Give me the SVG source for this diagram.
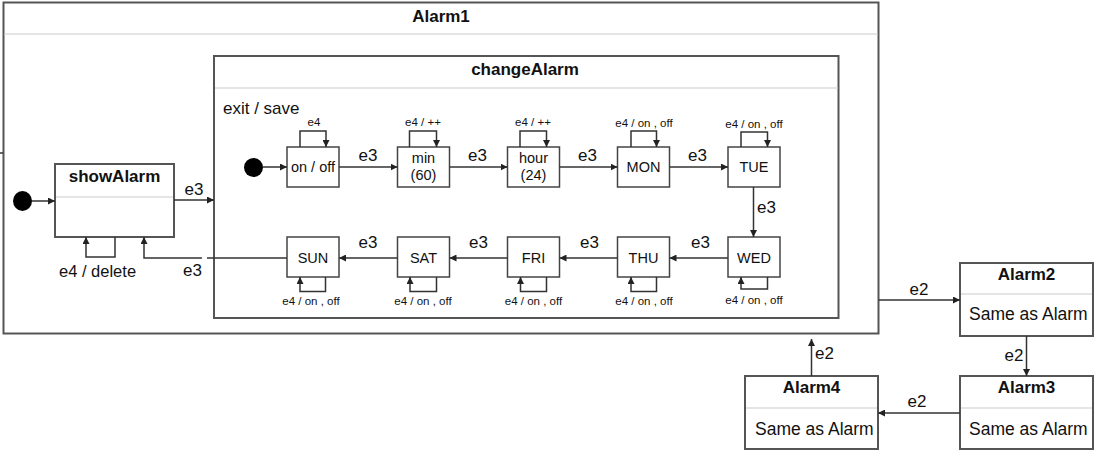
<svg xmlns="http://www.w3.org/2000/svg" width="1094" height="450" viewBox="0 0 1094 450">
<defs>
<marker id="ah" viewBox="0 0 10 10" refX="10" refY="5" markerWidth="7" markerHeight="7" markerUnits="userSpaceOnUse" orient="auto"><path d="M0,0 L10,5 L0,10 z" fill="#222"/></marker>
<style>
.box{fill:#fff;stroke:#555;stroke-width:2}
.div{stroke:#ddd;stroke-width:1.5}
.st{fill:#fff;stroke:#444;stroke-width:1.5}
.c{fill:none;stroke:#333;stroke-width:1.5;marker-end:url(#ah)}
.cn{fill:none;stroke:#333;stroke-width:1.5}
text{font-family:"Liberation Sans",Arial,sans-serif;fill:#111}
.t{font-size:17px;font-weight:bold;text-anchor:middle}
.n{font-size:14.5px;text-anchor:middle}
.l{font-size:17px;text-anchor:middle}
.s{font-size:11.5px;text-anchor:middle}
.b{font-size:17px}
.sa{font-size:17.5px}
</style>
</defs>
<g id="Alarm1">
<rect class="box" x="3.5" y="2.5" width="875" height="331"/>
<line class="div" x1="4.5" y1="34" x2="877.5" y2="34"/>
<text class="t" x="441" y="22">Alarm1</text>
</g>
<g id="init1"><ellipse cx="22.5" cy="201" rx="9.5" ry="10" fill="#000"/></g>
<g id="showAlarm">
<rect class="box" x="55" y="164" width="119" height="73"/>
<line class="div" x1="56" y1="197" x2="173" y2="197"/>
<text class="t" x="114.5" y="182">showAlarm</text>
</g>
<g id="changeAlarm">
<rect class="box" x="214" y="56" width="624.5" height="262"/>
<line class="div" x1="215" y1="88" x2="837.5" y2="88"/>
<text class="t" x="525" y="75">changeAlarm</text>
<text class="b" x="223" y="114">exit / save</text>
</g>
<g id="init2"><circle cx="253.5" cy="167.5" r="9.5" fill="#000"/></g>
<g id="onoff"><rect class="st" x="287" y="147" width="52" height="40"/><text class="n" x="313" y="172">on / off</text></g>
<g id="min"><rect class="st" x="397.5" y="147" width="52" height="40"/><text class="n" x="423.5" y="163">min</text><text class="n" x="423.5" y="180">(60)</text></g>
<g id="hour"><rect class="st" x="507.5" y="147" width="52" height="40"/><text class="n" x="533.5" y="163">hour</text><text class="n" x="533.5" y="180">(24)</text></g>
<g id="MON"><rect class="st" x="617.5" y="147" width="52" height="40"/><text class="n" x="643.5" y="172">MON</text></g>
<g id="TUE"><rect class="st" x="728" y="147" width="52" height="40"/><text class="n" x="754" y="172">TUE</text></g>
<g id="WED"><rect class="st" x="728" y="237" width="52" height="40"/><text class="n" x="754" y="263">WED</text></g>
<g id="THU"><rect class="st" x="617.5" y="237" width="52" height="40"/><text class="n" x="643.5" y="263">THU</text></g>
<g id="FRI"><rect class="st" x="507.5" y="237" width="52" height="40"/><text class="n" x="533.5" y="263">FRI</text></g>
<g id="SAT"><rect class="st" x="397.5" y="237" width="52" height="40"/><text class="n" x="423.5" y="263">SAT</text></g>
<g id="SUN"><rect class="st" x="287" y="237" width="52" height="40"/><text class="n" x="313" y="263">SUN</text></g>
<g id="Alarm2">
<rect class="box" x="960" y="263" width="133" height="73"/>
<line class="div" x1="961" y1="294" x2="1092" y2="294"/>
<text class="t" x="1026.5" y="280">Alarm2</text>
<text class="sa" x="969" y="320">Same as Alarm</text>
</g>
<g id="Alarm3">
<rect class="box" x="960" y="376" width="133" height="73"/>
<line class="div" x1="961" y1="408" x2="1092" y2="408"/>
<text class="t" x="1026.5" y="393">Alarm3</text>
<text class="sa" x="969" y="435">Same as Alarm</text>
</g>
<g id="Alarm4">
<rect class="box" x="745" y="376" width="133" height="73"/>
<line class="div" x1="746" y1="408" x2="877" y2="408"/>
<text class="t" x="811.5" y="393">Alarm4</text>
<text class="sa" x="755" y="435">Same as Alarm</text>
</g>
<g id="connectors">
<path class="cn" d="M0,153 H3"/>
<path class="c" d="M32,201 H55"/>
<path class="c" d="M174,200 H214"/>
<text class="l" x="194" y="195">e3</text>
<path class="c" d="M115,237 V257 H86 V237"/>
<text class="b" x="59" y="277" style="font-size:16.5px">e4 / delete</text>
<path class="cn" d="M287,258 H207"/>
<path class="c" d="M202,258 H144 V237"/>
<text class="l" x="192.5" y="276">e3</text>
<path class="c" d="M263,167 H287"/>
<path class="c" d="M339,167 H397.5"/>
<text class="l" x="368" y="161">e3</text>
<path class="c" d="M449.5,167 H507.5"/>
<text class="l" x="477.5" y="161">e3</text>
<path class="c" d="M559.5,167 H617.5"/>
<text class="l" x="587.5" y="161">e3</text>
<path class="c" d="M669.5,167 H728"/>
<text class="l" x="697.5" y="161">e3</text>
<path class="c" d="M753.5,187 V237"/>
<text class="b" x="757" y="213">e3</text>
<path class="c" d="M728,258 H669.5"/>
<text class="l" x="700.5" y="248">e3</text>
<path class="c" d="M617.5,258 H559.5"/>
<text class="l" x="589.5" y="248">e3</text>
<path class="c" d="M507.5,258 H449.5"/>
<text class="l" x="478.5" y="248">e3</text>
<path class="c" d="M397.5,258 H339"/>
<text class="l" x="368" y="248">e3</text>
<path class="c" d="M300,147 V131 H326 V147"/>
<text class="s" x="314" y="126">e4</text>
<path class="c" d="M409.5,147 V131 H436.5 V147"/>
<text class="s" x="423" y="126">e4 / ++</text>
<path class="c" d="M520,147 V131 H546.5 V147"/>
<text class="s" x="533" y="126">e4 / ++</text>
<path class="c" d="M631,147 V131 H656.5 V147"/>
<text class="s" x="644" y="127">e4 / on , off</text>
<path class="c" d="M741,147 V132 H767.5 V147"/>
<text class="s" x="754" y="128">e4 / on , off</text>
<path class="c" d="M767.5,277 V289 H741 V277"/>
<text class="s" x="754" y="304">e4 / on , off</text>
<path class="c" d="M656.5,277 V291.5 H631 V277"/>
<text class="s" x="644" y="305">e4 / on , off</text>
<path class="c" d="M546.5,277 V291.5 H520.5 V277"/>
<text class="s" x="533.5" y="305">e4 / on , off</text>
<path class="c" d="M436.5,277 V291.5 H410 V277"/>
<text class="s" x="423" y="305">e4 / on , off</text>
<path class="c" d="M325.5,277 V291.5 H300 V277"/>
<text class="s" x="311" y="305">e4 / on , off</text>
<path class="c" d="M878.5,300 H960"/>
<text class="l" x="919" y="295">e2</text>
<path class="c" d="M1026.5,336 V376"/>
<text class="l" x="1014" y="361">e2</text>
<path class="c" d="M960,413 H878"/>
<text class="l" x="917" y="407">e2</text>
<path class="c" d="M811.5,376 V339"/>
<text class="b" x="815" y="359">e2</text>
</g>
</svg>
